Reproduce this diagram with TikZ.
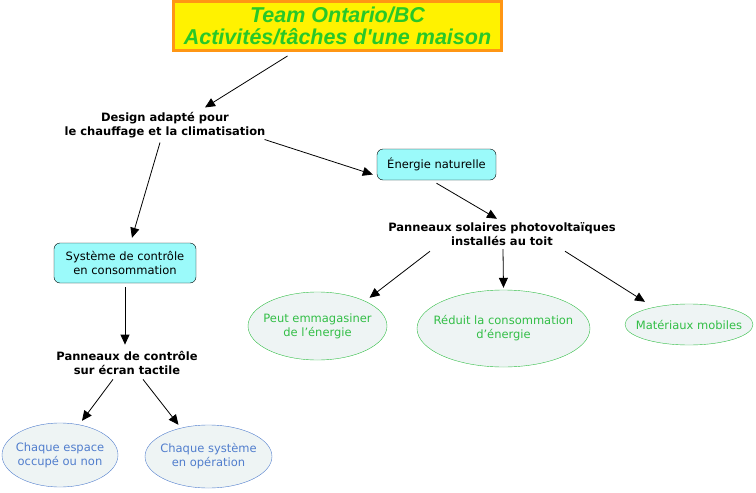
\documentclass[tikz,border=0pt]{standalone}
\usepackage{fontspec}
\setmainfont{DejaVu Sans}
\newfontfamily\titlefont{Liberation Sans}
\usepackage{tikz}
\usetikzlibrary{shapes.geometric,arrows.meta,positioning}
\definecolor{titlegreen}{RGB}{40,200,40}
\definecolor{titleorange}{RGB}{255,150,20}
\definecolor{boxcyan}{RGB}{155,250,250}
\definecolor{ovalfill}{RGB}{238,244,244}
\definecolor{ovalblue}{RGB}{80,125,205}
\definecolor{ovalgreen}{RGB}{50,190,70}

\begin{document}
\begin{tikzpicture}[x=1pt, y=-1pt,
        titlebox/.style={draw=titleorange, line width=3pt, fill=yellow, minimum width=328pt, minimum height=49pt, align=center, text=titlegreen, font=\titlefont\bfseries\itshape\fontsize{21.5}{24}\selectfont, inner sep=0pt},
        concept/.style={align=center, font=\bfseries\fontsize{11.5}{14}\selectfont, inner sep=1pt},
        box/.style={draw, rectangle, rounded corners=6pt, align=center, fill=boxcyan, font=\fontsize{11.5}{14}\selectfont, inner sep=0pt},
        oval/.style={draw, ellipse, align=center, fill=ovalfill, inner sep=-14pt, font=\fontsize{11.5}{14}\selectfont},
        blueoval/.style={oval, draw=ovalblue, text=ovalblue},
        greenoval/.style={oval, draw=ovalgreen, text=ovalgreen},
        arrow/.style={-{Triangle[length=10pt,width=9pt]}, line width=0.8pt}
    ]
        \useasboundingbox (0,0) rectangle (756,493);
        % Nodes
        \node[titlebox] (title) at (337.5,26) {\raisebox{-2pt}{Team Ontario/BC}\\Activités/tâches d'une maison};
        \node[concept] (design) at (165,125.5) {Design adapté pour\\le chauffage et la climatisation};
        \node[box, minimum width=119pt, minimum height=31pt] (energie) at (436.5,164.5) {Énergie naturelle};
        \node[concept] (solaires) at (502,234.5) {Panneaux solaires photovoltaïques\\installés au toit};
        \node[box, minimum width=142pt, minimum height=40pt] (systeme) at (125,263) {Système de contrôle\\en consommation};
        \node[concept] (controle) at (127,362.5) {Panneaux de contrôle\\sur écran tactile};
        \node[blueoval, minimum width=116pt, minimum height=64pt] (espace) at (60,455) {Chaque espace\\occupé ou non};
        \node[blueoval, minimum width=127pt, minimum height=63pt] (operation) at (208.5,456.5) {Chaque système\\en opération};
        \node[greenoval, minimum width=139pt, minimum height=68pt] (emmagasiner) at (317.5,326) {Peut emmagasiner\\de l'énergie};
        \node[greenoval, minimum width=173pt, minimum height=77pt] (reduit) at (503.5,328.5) {Réduit la consommation\\d'énergie};
        \node[greenoval, minimum width=128pt, minimum height=41pt] (mobiles) at (689,324.5) {Matériaux mobiles};

        % Arrows
        \draw[arrow] ([xshift=-50pt,yshift=-4pt]title.south) -- ([xshift=40pt,yshift=4pt]design.north);
        \draw[arrow] ([xshift=-5pt,yshift=-3pt]design.south) -- ([xshift=7pt,yshift=5pt]systeme.north);
        \draw[arrow] ([xshift=-2pt]design.south east) -- ([xshift=-4pt,yshift=-10pt]energie.west);
        \draw[arrow] ([yshift=-3pt]energie.south) -- ([xshift=-5pt,yshift=3pt]solaires.north);
        \draw[arrow] ([yshift=-4pt]systeme.south) -- ([xshift=-2pt,yshift=5pt]controle.north);
        \draw[arrow] ([xshift=-14pt,yshift=-4pt]controle.south) -- ([xshift=22pt,yshift=2pt]espace.north);
        \draw[arrow] ([xshift=16pt,yshift=-4pt]controle.south) -- ([xshift=-30pt]operation.north);
        \draw[arrow] ([xshift=-72pt,yshift=-4pt]solaires.south) -- ([xshift=52pt,yshift=-6pt]emmagasiner.north);
        \draw[arrow] ([xshift=1pt,yshift=-2pt]solaires.south) -- ([yshift=2pt]reduit.north);
        \draw[arrow] ([xshift=63pt,yshift=-4pt]solaires.south) -- ([xshift=-44pt,yshift=2pt]mobiles.north);
    \end{tikzpicture}
\end{document}
